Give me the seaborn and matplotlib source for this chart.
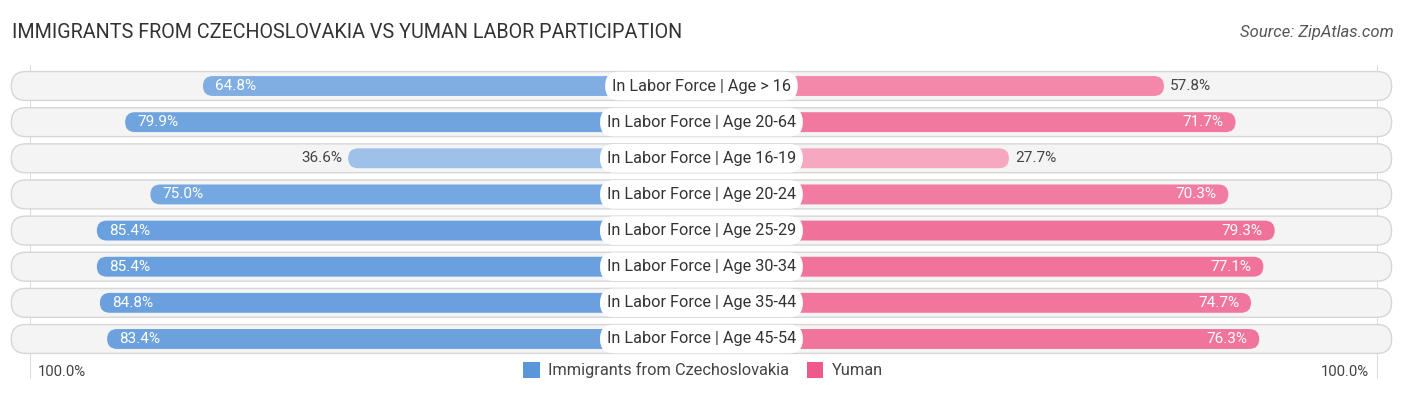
import matplotlib
matplotlib.use("Agg")
import matplotlib.pyplot as plt
from matplotlib.patches import FancyBboxPatch, Patch
import matplotlib.colors as mcolors
import numpy as np
import pandas as pd
import seaborn as sns

# data
categories = ["In Labor Force | Age > 16", "In Labor Force | Age 20-64", "In Labor Force | Age 16-19",
              "In Labor Force | Age 20-24", "In Labor Force | Age 25-29", "In Labor Force | Age 30-34",
              "In Labor Force | Age 35-44", "In Labor Force | Age 45-54"]
czech = [64.8, 79.9, 36.6, 75.0, 85.4, 85.4, 84.8, 83.4]
yuman = [57.8, 71.7, 27.7, 70.3, 79.3, 77.1, 74.7, 76.3]
series_names = ["Immigrants from Czechoslovakia", "Yuman"]

title = "IMMIGRANTS FROM CZECHOSLOVAKIA VS YUMAN LABOR PARTICIPATION"
source = "Source: ZipAtlas.com"

BLUE = "#5a96da"
PINK = "#ee5b8a"
OFF = 32.0    # gap under the centre label, in percent units
ASP = 7.02    # px per y unit / px per x unit

sns.set_theme(style="white")
plt.rcParams["font.family"] = ["Roboto", "DejaVu Sans"]


def shade(base, v):
    a = 0.35 + 0.65 * v / 100
    rgb = np.array(mcolors.to_rgb(base))
    return tuple(rgb * a + (1 - a))


df = pd.DataFrame({
    "cat": categories * 2,
    "x": [-(OFF + v) for v in czech] + [OFF + v for v in yuman],
    "series": [series_names[0]] * len(czech) + [series_names[1]] * len(yuman),
})

fig = plt.figure(figsize=(14.06, 3.95), dpi=100)
ax = fig.add_axes([0, 0, 1, 1])

sns.barplot(data=df, y="cat", x="x", hue="series", orient="h", dodge=False,
            width=0.55, ax=ax, legend=False, palette=[BLUE, PINK], zorder=2)

# turn the bars into rounded bars with value-based shading
vals = czech + yuman
bases = [BLUE] * len(czech) + [PINK] * len(yuman)
bars = list(ax.patches)
for p, v, b in zip(bars, vals, bases):
    x0, y0, w, h = p.get_x(), p.get_y(), p.get_width(), p.get_height()
    if w < 0:
        x0, w = x0 + w, -w
    p.remove()
    ax.add_patch(FancyBboxPatch((x0, y0), w, h,
                                boxstyle="round,pad=0,rounding_size=%.3f" % (h * ASP / 2),
                                mutation_aspect=1 / ASP,
                                fc=shade(b, v), ec="none", zorder=2))

# background pills
for i in range(len(categories)):
    ax.add_patch(FancyBboxPatch((-134, i - 0.4), 268, 0.8,
                                boxstyle="round,pad=0,rounding_size=%.3f" % (0.4 * ASP),
                                mutation_aspect=1 / ASP,
                                fc="#f4f4f4", ec="#d6d6d6", lw=1.0, zorder=0))

for i, cat in enumerate(categories):
    ax.text(0, i, cat, ha="center", va="center", fontsize=11.7, color="#333333", zorder=5,
            bbox=dict(boxstyle="round,pad=0.42,rounding_size=0.85", fc="white", ec="none"))
    lv, rv = czech[i], yuman[i]
    if lv >= 60:
        ax.text(-(OFF + lv) + 2.3, i, f"{lv:.1f}%", ha="left", va="center",
                fontsize=11, color="white", zorder=4)
    else:
        ax.text(-(OFF + lv) - 1.2, i, f"{lv:.1f}%", ha="right", va="center",
                fontsize=11, color="#444444", zorder=4)
    if rv >= 60:
        ax.text(OFF + rv - 2.3, i, f"{rv:.1f}%", ha="right", va="center",
                fontsize=11, color="white", zorder=4)
    else:
        ax.text(OFF + rv + 1.2, i, f"{rv:.1f}%", ha="left", va="center",
                fontsize=11, color="#444444", zorder=4)

for xv in (-130.4, 131.1):
    ax.plot([xv, xv], [-0.58, 8.08], color="#dddddd", lw=0.8, zorder=-1)

ax.set_xlim(-136.2, 136.8)
ax.set_ylim(8.55, -2.38)
ax.axis("off")

ax.text(-128.9, 7.9, "100.0%", ha="left", va="center", fontsize=10.7, color="#444444")
ax.text(129.6, 7.9, "100.0%", ha="right", va="center", fontsize=10.7, color="#444444")

fig.text(12 / 1406, 1 - 33 / 395, title, ha="left", va="center", fontsize=14.2, color="#333333")
fig.text(1394 / 1406, 1 - 33 / 395, source, ha="right", va="center", fontsize=12,
         color="#555555", style="italic")

handles = [Patch(fc=BLUE, ec="none"), Patch(fc=PINK, ec="none")]
fig.legend(handles, series_names, loc="center", bbox_to_anchor=(0.5, 1 - 370 / 395), ncol=2,
           frameon=False, fontsize=11.8, handlelength=1.0, handleheight=1.1,
           handletextpad=0.5, columnspacing=1.1, labelcolor="#444444")

fig.savefig("out.png", dpi=100)
